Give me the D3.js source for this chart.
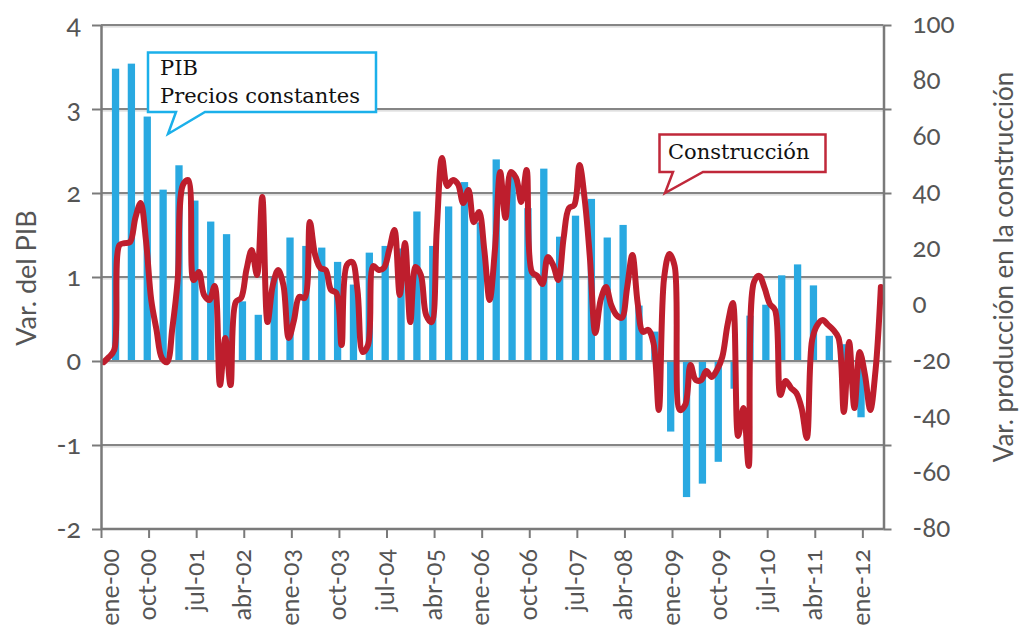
<!DOCTYPE html>
<html>
<head>
<meta charset="utf-8">
<script src="https://cdn.jsdelivr.net/npm/d3@7"></script>
<style>
  html, body { margin: 0; padding: 0; background: #fff; }
  svg { display: block; }
  .lbl { font-family: Lato, "Open Sans", sans-serif; fill: #555; font-variant-numeric: oldstyle-nums; font-feature-settings: "onum" 1; }
  .note { font-family: "DejaVu Serif", serif; font-size: 21px; fill: #111; }
</style>
</head>
<body>
<svg id="chart" width="1021" height="635"></svg>
<script>
// ---- DATA ----
// Quarterly GDP variation (%), Q1 2000 .. Q4 2011
const pibValues = [
  3.48, 3.54, 2.91, 2.04, 2.33, 1.91, 1.66, 1.51, 0.71, 0.55, 1.00, 1.47,
  1.37, 1.35, 1.18, 0.91, 1.29, 1.37, 1.34, 1.78, 1.37, 1.84, 2.13, 1.65,
  2.40, 2.25, 1.82, 2.29, 1.48, 1.73, 1.93, 1.47, 1.62, 0.66, 0.35, -0.84,
  -1.62, -1.46, -1.20, -0.33, 0.54, 0.67, 1.02, 1.15, 0.90, 0.30, 0.20, -0.67
];
// Monthly construction production variation (%), ene-00 .. abr-12
const construccion = [
  -20.4, -18.6, -16.1, 21.4, 22.1, 22.5, 31.1, 36.4, 23.2, 1.8, -8.9, -18.9,
  -20.4, -8.2, 8.9, 42.9, 44.6, 8.9, 11.8, 3.6, 1.8, 6.8, -28.6, -11.8,
  -28.6, 1.1, 2.5, 12.5, 19.6, 10.7, 38.6, -6.1, 7.1, 12.5, 7.1, -11.8,
  -5.4, 2.9, 2.5, 29.6, 17.9, 13.2, 12.5, 5.4, 4.3, -14.3, 14.3, 15.4,
  5.4, -16.8, -14.3, 13.9, 12.5, 13.2, 19.6, 26.8, 3.6, 22.1, -6.1, 13.6,
  10.7, -3.6, -6.1, 26.8, 52.5, 42.5, 44.6, 43.2, 36.4, 41.1, 29.6, 33.2,
  19.6, 1.8, 19.6, 47.5, 31.1, 47.5, 45.4, 36.8, 48.2, 11.8, 10.4, 7.5,
  17.1, 14.3, 8.9, 23.9, 34.6, 35.7, 50.0, 37.5, 16.1, -10.0, 1.8, 6.4,
  0.0, -3.6, -4.6, 6.1, 17.9, 0.7, -9.6, -8.9, -13.6, -37.5, 9.6, 18.2,
  13.9, -37.5, -35.7, -21.4, -26.8, -26.8, -23.6, -25.7, -23.2, -18.6, -7.1, 0.7,
  -46.8, -36.8, -57.5, 8.2, 10.4, 6.1, 0.4, -1.8, -32.1, -27.1, -29.6, -31.4,
  -36.8, -47.5, -12.5, -7.1, -5.4, -7.1, -8.9, -11.8, -38.2, -13.2, -36.8, -16.8,
  -25.0, -37.5, -23.2, 6.4
];
// X tick labels, one every 9 months starting ene-00
const tickLabels = ["ene-00","oct-00","jul-01","abr-02","ene-03","oct-03","jul-04","abr-05",
  "ene-06","oct-06","jul-07","abr-08","ene-09","oct-09","jul-10","abr-11","ene-12"];
const tickStep = 9;
const leftTicks = [-2, -1, 0, 1, 2, 3, 4];
const rightTicks = [-80, -60, -40, -20, 0, 20, 40, 60, 80, 100];
const leftTitle = "Var. del PIB";
const rightTitle = "Var. producción en la construcción";
const pibNote = ["PIB", "Precios constantes"];
const consNote = "Construcción";

// ---- LAYOUT ----
const svg = d3.select("#chart");
const L = 101, R = 883.5, T = 25, B = 529;
const nMonths = construccion.length;
const x = d3.scaleLinear().domain([0, nMonths]).range([L, R]);
const yL = d3.scaleLinear().domain([-2, 4]).range([B, T]);
const yR = d3.scaleLinear().domain([-80, 100]).range([B, T]);
const gridColor = "#858585";
const axisColor = "#7a7a7a";
const fmt = d => String(d);

// gridlines
const grid = svg.append("g");
leftTicks.filter(d => d > -2).forEach(d => {
  grid.append("line").attr("x1", L).attr("x2", R).attr("y1", yL(d) + 1.8).attr("y2", yL(d) + 1.8)
    .attr("stroke", "#d6d6d6").attr("stroke-width", 1.2);
  grid.append("line").attr("x1", L).attr("x2", R).attr("y1", yL(d)).attr("y2", yL(d))
    .attr("stroke", gridColor).attr("stroke-width", 2);
});

// bars
const barW = 7.3;
svg.append("g").selectAll("rect").data(pibValues).join("rect")
  .attr("x", (d, i) => x(i * 3 + 2.75) - barW / 2)
  .attr("width", barW)
  .attr("y", d => Math.min(yL(d), yL(0)))
  .attr("height", d => Math.abs(yL(d) - yL(0)))
  .attr("fill", "#29a9e1");

// zero line on top of bars
svg.append("line").attr("x1", L).attr("x2", R).attr("y1", yL(0)).attr("y2", yL(0))
  .attr("stroke", gridColor).attr("stroke-width", 2);

// construction line
const line = d3.line()
  .x((d, i) => x(i + 0.5))
  .y(d => yR(d))
  .curve(d3.curveCatmullRom.alpha(0.5));
svg.append("path").datum(construccion)
  .attr("d", line)
  .attr("fill", "none")
  .attr("stroke", "#be1e2d")
  .attr("stroke-width", 6)
  .attr("stroke-linejoin", "round")
  .attr("stroke-linecap", "round");

// axes
function styleAxis(g) {
  g.select(".domain").attr("stroke", axisColor).attr("stroke-width", 2.5);
  g.selectAll(".tick line").attr("stroke", axisColor).attr("stroke-width", 2);
  g.selectAll("text").attr("class", "lbl").attr("fill", null);
}
const leftAxis = svg.append("g").attr("transform", `translate(${L},0)`)
  .call(d3.axisLeft(yL).tickValues(leftTicks).tickSize(9).tickSizeOuter(0).tickPadding(11).tickFormat(fmt))
  .call(styleAxis);
leftAxis.selectAll("text").style("font-size", "27px").attr("dy", "0.3em");

// right axis: tick marks at grid positions, labels on the right scale
svg.append("g").attr("transform", `translate(${R},0)`)
  .call(d3.axisRight(yL).tickValues(leftTicks).tickSize(8).tickSizeOuter(0).tickFormat(""))
  .call(styleAxis);
const rightAxis = svg.append("g").attr("transform", `translate(${R},0)`)
  .call(d3.axisRight(yR).tickValues(rightTicks).tickSize(0).tickPadding(29).tickFormat(fmt))
  .call(styleAxis);
rightAxis.select(".domain").remove();
rightAxis.selectAll("text").style("font-size", "26px").attr("dy", "0.3em");

// bottom axis
const xAxis = svg.append("g").attr("transform", `translate(0,${B})`)
  .call(d3.axisBottom(x).tickValues(tickLabels.map((d, i) => i * tickStep)).tickSize(9).tickSizeOuter(0)
    .tickFormat((d, i) => tickLabels[i]))
  .call(styleAxis);
xAxis.select(".domain").attr("d", `M${L},0H${R}`);
xAxis.selectAll(".tick text")
  .attr("transform", "rotate(-90)")
  .attr("text-anchor", "end")
  .attr("x", -20)
  .attr("y", (d, i) => i === 0 ? 17 : 7)
  .attr("dy", 0)
  .style("font-size", "25px");

// axis titles
svg.append("text").attr("class", "lbl")
  .attr("transform", "translate(36,278) rotate(-90)")
  .attr("text-anchor", "middle").style("font-size", "27px").text(leftTitle);
svg.append("text").attr("class", "lbl")
  .attr("transform", "translate(1013,267) rotate(-90)")
  .attr("text-anchor", "middle").style("font-size", "26px").text(rightTitle);

// callouts
svg.append("path")
  .attr("d", "M148,52.5H376V112H205L168,134L176,112H148Z")
  .attr("fill", "#fff").attr("stroke", "#1bb0ea").attr("stroke-width", 2.5);
svg.append("text").attr("class", "note").attr("x", 160).attr("y", 75).text(pibNote[0]);
svg.append("text").attr("class", "note").attr("x", 160).attr("y", 103).text(pibNote[1]);

svg.append("path")
  .attr("d", "M659.5,134.5H825.5V172H703L665,193L673,172H659.5Z")
  .attr("fill", "#fff").attr("stroke", "#c0283a").attr("stroke-width", 2.5);
svg.append("text").attr("class", "note").attr("x", 668).attr("y", 159).text(consNote);
</script>
</body>
</html>
